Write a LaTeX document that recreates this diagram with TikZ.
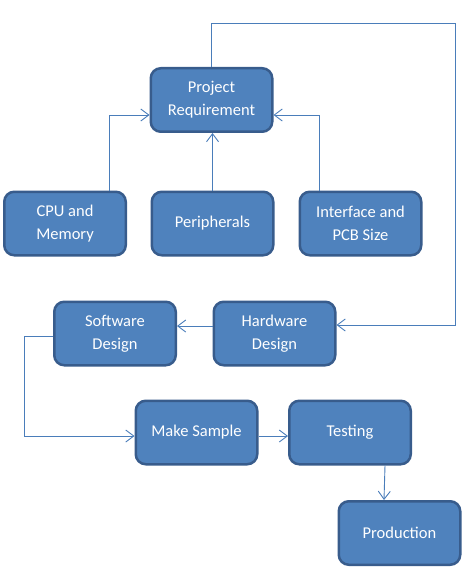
\documentclass[tikz,border=0pt]{standalone}
\usepackage{fontspec}
\setmainfont{Carlito}
\usetikzlibrary{arrows.meta,calc,positioning}
\definecolor{officeblue}{rgb}{0.31,0.51,0.74}
\definecolor{officeborder}{rgb}{0.22,0.36,0.55}
\definecolor{linkblue}{rgb}{0.29,0.49,0.73}
\tikzset{
  caja/.style={
    rounded corners=10pt,
    draw=officeborder,
    line width=2.5pt,
    fill=officeblue,
    text=white,
    align=center,
    minimum width=121.5pt,
    minimum height=63.5pt,
    inner sep=2pt,
    font=\fontsize{16.5}{23}\selectfont
  },
  flecha/.style={
    -{Straight Barb[length=8pt,width=12pt]},
    line width=0.9pt,
    linkblue
  }
}
\begin{document}
\begin{tikzpicture}[x=1pt,y=-1pt]
\useasboundingbox (0,0) rectangle (470,572);
\node[caja] (req) at (211.5,100) {Project\\Requirement};
\node[caja] (per) at (212.5,223.5) {Peripherals};
\node[caja] (cpu) at (65,223.5) {CPU and\\Memory};
\node[caja] (pcb) at (360.5,223.5) {Interface and\\PCB Size};
\node[caja] (hw) at (274.5,333.5) {Hardware\\Design};
\node[caja] (sw) at (115,333.5) {Software\\Design};
\node[caja] (ms) at (196.5,432.5) {Make Sample};
\node[caja] (tst) at (350,432.5) {Testing};
\node[caja] (prod) at (399.5,533) {Production};
\coordinate (top) at (455,23);
\coordinate (swl) at (24,436);
% hacia los requisitos
\draw[flecha] ($(cpu.north)+(44,0)$) |- ($(req.west)+(0,15)$);
\draw[flecha] (per.north) -- ($(req.south)+(1,0)$);
\draw[flecha] ($(pcb.north)+(-41.5,0)$) |- ($(req.east)+(0,15)$);
% lazo al hardware
\draw[flecha] (req.north) |- (top) |- ($(hw.east)+(0,-8.5)$);
\draw[flecha] ($(hw.west)+(0,-7.5)$) -- ($(sw.east)+(0,-7.5)$);
\draw[flecha] ($(sw.west)+(0,2.5)$) -| (swl) -- ($(ms.west)+(0,3.5)$);
\draw[flecha] ($(ms.east)+(0,3.5)$) -- ($(tst.west)+(0,3.5)$);
\draw[flecha] ($(tst.south)+(35,0)$) -- ($(prod.north)+(-15.5,0)$);
\end{tikzpicture}
\end{document}
